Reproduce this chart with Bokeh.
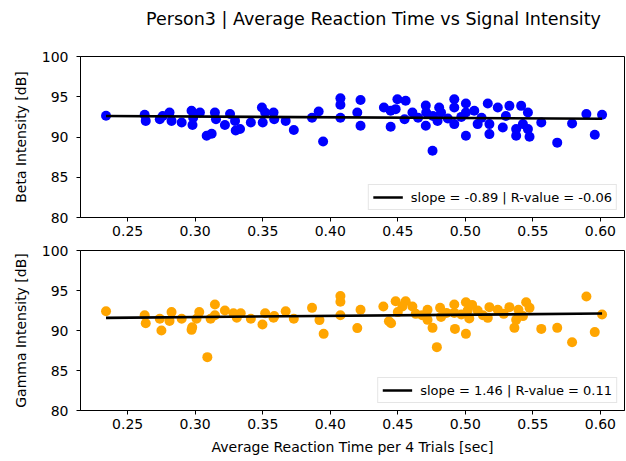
from bokeh.plotting import figure
from bokeh.layouts import column
from bokeh.models import Legend, LegendItem, FixedTicker, NumeralTickFormatter, Range1d, Div
from bokeh.core.properties import value
from bokeh.embed import file_html
from bokeh.resources import INLINE
import numpy as np

# Average reaction time per 4 trials [sec] and beta intensity [dB]
beta_time = [0.234, 0.2626, 0.2634, 0.2738, 0.276, 0.281, 0.2825, 0.290, 0.2973, 0.298,
             0.2985, 0.3035, 0.3085, 0.3122, 0.3146, 0.3154, 0.322, 0.3258, 0.3295, 0.330,
             0.3332, 0.3412, 0.3494, 0.350, 0.3518, 0.358, 0.3585, 0.367, 0.373, 0.3865,
             0.3914, 0.3947, 0.4075, 0.4075, 0.4075, 0.4224, 0.420, 0.4224, 0.4397, 0.4447,
             0.4447, 0.4497, 0.4558, 0.4484, 0.4608, 0.4707, 0.471, 0.4707, 0.4757, 0.4794,
             0.4806, 0.482, 0.4918, 0.4918, 0.4918, 0.5004, 0.5004, 0.5004, 0.5066, 0.5091,
             0.5166, 0.5178, 0.5178, 0.524, 0.5277, 0.5326, 0.5376, 0.5376, 0.5413, 0.5426,
             0.5463, 0.5463, 0.5475, 0.5562, 0.568, 0.579, 0.5896, 0.5958, 0.6012,
             0.465, 0.476, 0.487, 0.497, 0.512, 0.455, 0.530]
beta_db = [92.63, 92.76, 92.0, 92.2, 92.6, 93.04, 92.0, 91.8, 93.25, 91.5,
           92.4, 93.04, 90.15, 90.4, 93.04, 92.2, 91.5, 92.85, 92.0, 90.8,
           91.0, 91.8, 93.66, 91.8, 93.04, 93.04, 92.2, 92.0, 90.86, 92.4,
           93.17, 89.44, 94.8, 94.0, 92.4, 94.6, 93.04, 91.4, 93.66, 93.25,
           91.27, 94.7, 94.5, 93.46, 93.04, 93.9, 93.04, 91.4, 88.3, 92.0,
           93.66, 93.04, 94.7, 93.66, 91.6, 94.16, 93.04, 90.15, 93.25, 91.6,
           94.16, 91.6, 90.36, 93.66, 91.18, 93.87, 90.98, 90.15, 93.87, 91.6,
           93.04, 90.98, 90.03, 91.8, 89.3, 91.68, 92.85, 90.27, 92.76,
           92.4, 92.6, 92.3, 92.5, 92.4, 92.2, 92.6]

# Average reaction time per 4 trials [sec] and gamma intensity [dB]
gamma_time = [0.234, 0.2626, 0.2634, 0.2738, 0.275, 0.2825, 0.281, 0.290, 0.2973, 0.2978,
              0.301, 0.303, 0.309, 0.3114, 0.3146, 0.3146, 0.322, 0.3283, 0.3308, 0.3337,
              0.3412, 0.3498, 0.3518, 0.358, 0.3585, 0.367, 0.373, 0.3865, 0.392, 0.3951,
              0.4075, 0.4075, 0.4075, 0.420, 0.4224, 0.4393, 0.4434, 0.445, 0.4484, 0.4558,
              0.4534, 0.4608, 0.4633, 0.472, 0.472, 0.4757, 0.4789, 0.4813, 0.482, 0.4918,
              0.4918, 0.4923, 0.5004, 0.5017, 0.5004, 0.5029, 0.5091, 0.5166, 0.5178, 0.524,
              0.5284, 0.5326, 0.5363, 0.5376, 0.5393, 0.5426, 0.545, 0.5475, 0.5562, 0.568,
              0.579, 0.5896, 0.5958, 0.6012,
              0.468, 0.486, 0.497, 0.505, 0.513, 0.450]
gamma_db = [92.4, 91.9, 90.9, 91.46, 90.0, 92.3, 91.2, 91.46, 90.08, 90.4,
            91.46, 92.3, 86.67, 91.46, 93.25, 91.9, 92.5, 92.16, 91.6, 92.16,
            91.46, 90.75, 92.16, 91.6, 91.8, 92.4, 91.46, 92.83, 91.3, 89.58,
            94.3, 93.6, 91.9, 90.3, 92.6, 93.0, 91.16, 90.9, 93.66, 93.66,
            93.0, 93.0, 92.08, 92.58, 91.33, 90.33, 87.92, 92.83, 91.7, 93.25,
            92.2, 90.2, 93.54, 92.5, 89.58, 91.5, 92.5, 91.58, 92.92, 92.58,
            92.08, 92.92, 90.33, 91.33, 92.58, 91.8, 93.54, 92.83, 90.2, 90.33,
            88.54, 94.25, 89.8, 92.0,
            91.9, 92.2, 92.0, 93.2, 91.9, 92.3]

# Linear fit results
beta_slope, beta_intercept, beta_r = -0.89, 92.81, -0.06
gamma_slope, gamma_intercept, gamma_r = 1.46, 91.24, 0.11

x_ticks = [0.25, 0.30, 0.35, 0.40, 0.45, 0.50, 0.55, 0.60]
y_ticks = [80, 85, 90, 95, 100]

TITLE = "Person3 | Average Reaction Time vs Signal Intensity"
FONT = "DejaVu Sans"


def make_panel(times, dbs, slope, intercept, r, color, ylabel, height, top, bottom, xlabel=None):
    p = figure(width=626, height=height, output_backend="svg", toolbar_location=None,
               x_range=Range1d(0.2151, 0.6178), y_range=Range1d(80, 100),
               min_border_left=80, min_border_right=2,
               min_border_top=top, min_border_bottom=bottom)
    p.background_fill_color = "white"
    p.border_fill_color = "white"
    p.outline_line_color = "black"
    p.outline_line_width = 1
    p.xgrid.visible = False
    p.ygrid.visible = False

    p.scatter(times, dbs, size=10, fill_color=color, line_color=None)

    xs = np.array(times)
    fit_x = [float(xs.min()), float(xs.max())]
    fit_y = [slope * v + intercept for v in fit_x]
    fit = p.line(fit_x, fit_y, line_color="black", line_width=2.6)

    label = f"slope = {slope:.2f} | R-value = {r:.2f}"
    legend = Legend(items=[LegendItem(label=value(label), renderers=[fit])],
                    location="bottom_right", margin=7, padding=4, spacing=0,
                    glyph_width=30, glyph_height=16, label_height=16, label_standoff=8,
                    label_text_font=FONT, label_text_font_size="13px",
                    label_text_color="black",
                    border_line_color="#cccccc", border_line_width=1,
                    background_fill_alpha=0.8)
    p.add_layout(legend)

    for ax in (p.xaxis, p.yaxis):
        ax.axis_line_color = "black"
        ax.major_tick_line_color = "black"
        ax.minor_tick_line_color = None
        ax.major_tick_out = 4
        ax.major_tick_in = 0
        ax.major_label_text_font = FONT
        ax.major_label_text_font_size = "14px"
        ax.major_label_text_color = "black"
        ax.axis_label_text_font = FONT
        ax.axis_label_text_font_size = "14px"
        ax.axis_label_text_font_style = "normal"
        ax.axis_label_text_color = "black"

    p.xaxis.ticker = FixedTicker(ticks=x_ticks)
    p.xaxis.formatter = NumeralTickFormatter(format="0.00")
    p.xaxis.major_label_standoff = 4
    p.yaxis.ticker = FixedTicker(ticks=y_ticks)
    p.yaxis.major_label_standoff = 8
    p.yaxis.axis_label = ylabel
    p.yaxis.axis_label_standoff = 10
    if xlabel:
        p.xaxis.axis_label = xlabel
        p.xaxis.axis_label_standoff = 7
    return p


heading = Div(
    text=(f'<div style="position:absolute; left:146px; top:7px; white-space:nowrap; '
          f'font-family:\'{FONT}\'; font-size:17.5px; color:black;">{TITLE}</div>'),
    width=626, height=40, margin=0)

p1 = make_panel(beta_time, beta_db, beta_slope, beta_intercept, beta_r, "#0000ff",
                "Beta Intensity [dB]", 202, 16, 25)

p2 = make_panel(gamma_time, gamma_db, gamma_slope, gamma_intercept, gamma_r, "#ffa500",
                "Gamma Intensity [dB]", 219, 8, 51,
                xlabel="Average Reaction Time per 4 Trials [sec]")

layout = column(heading, p1, p2, spacing=0)
open("out.html", "w").write(file_html(layout, INLINE))
